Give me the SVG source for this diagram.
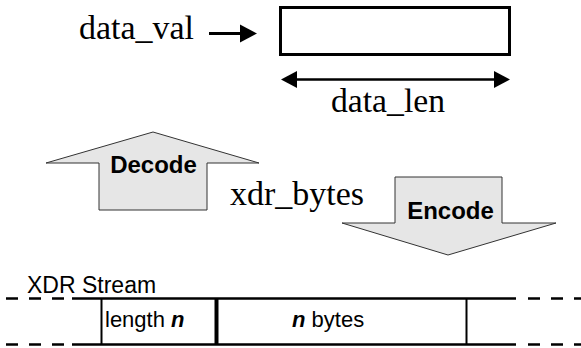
<svg xmlns="http://www.w3.org/2000/svg" width="581" height="348" viewBox="0 0 581 348">
  <style>
    .serif { font-family: "Liberation Serif", "Times New Roman", serif; font-size: 33px; fill: #000; }
    .sans { font-family: "Liberation Sans", Arial, sans-serif; fill: #000; }
    .label { font-size: 24px; font-weight: bold; }
    .cell { font-size: 22px; }
    .bold { font-weight: bold; font-style: italic; }
    .block { fill: #e6e6e6; stroke: #333; stroke-width: 1; }
    .rule { stroke: #000; fill: none; }
    .edge { stroke-width: 2.5; }
    .dash { stroke-width: 2.5; stroke-dasharray: 12 11; }
    .thin { stroke-width: 2; }
    .thick { stroke-width: 4; }
    .arrow { stroke: #000; fill: none; }
    .tip { fill: #000; stroke: none; }
  </style>

  <!-- data buffer and its labels -->
  <g id="data_val">
    <text class="serif" x="79" y="39" textLength="115" lengthAdjust="spacingAndGlyphs">data_val</text>
  </g>
  <g id="buffer">
    <rect x="280.5" y="7.5" width="229" height="47" fill="#fff" stroke="#000" stroke-width="3"/>
  </g>
  <g id="data_len">
    <text class="serif" x="331" y="112" textLength="114" lengthAdjust="spacingAndGlyphs">data_len</text>
  </g>

  <!-- big block arrows -->
  <g id="decode">
    <polygon class="block" points="46,163 153,132 259,163 207,163 207,210 99,210 99,163"/>
    <text class="sans label" x="153.5" y="173" text-anchor="middle">Decode</text>
  </g>
  <g id="xdr_bytes">
    <text class="serif" x="230" y="205" textLength="134" lengthAdjust="spacingAndGlyphs">xdr_bytes</text>
  </g>
  <g id="encode">
    <polygon class="block" points="395,177 502,177 502,223 556,223 448,255 342,223 395,223"/>
    <text class="sans label" x="450.5" y="219" text-anchor="middle">Encode</text>
  </g>

  <!-- XDR stream -->
  <g id="stream">
    <text class="sans" x="27" y="293" style="font-size:23px">XDR Stream</text>
    <line class="rule dash" x1="6" y1="298.5" x2="72" y2="298.5"/>
    <line class="rule edge" x1="72" y1="298.5" x2="516" y2="298.5"/>
    <line class="rule dash" x1="528" y1="298.5" x2="581" y2="298.5"/>
    <line class="rule dash" x1="6" y1="344.5" x2="72" y2="344.5"/>
    <line class="rule edge" x1="72" y1="344.5" x2="516" y2="344.5"/>
    <line class="rule dash" x1="528" y1="344.5" x2="581" y2="344.5"/>
    <line class="rule thin" x1="101.5" y1="298" x2="101.5" y2="345"/>
    <line class="rule thick" x1="216.5" y1="298" x2="216.5" y2="345"/>
    <line class="rule thin" x1="466.5" y1="298" x2="466.5" y2="345"/>
    <text class="sans cell" x="105" y="327">length <tspan class="bold">n</tspan></text>
    <text class="sans cell" x="292" y="327"><tspan class="bold">n</tspan> bytes</text>
  </g>

  <!-- connectors: shafts with solid triangular tips -->
  <g id="connectors">
    <line class="arrow" x1="209" y1="33.5" x2="242" y2="33.5" stroke-width="3"/>
    <polygon class="tip" points="240,24.5 257,33.5 240,42.5"/>
    <line class="arrow" x1="294" y1="79.5" x2="497" y2="79.5" stroke-width="2.5"/>
    <polygon class="tip" points="297,71 281,79.5 297,88"/>
    <polygon class="tip" points="494,71 510,79.5 494,88"/>
  </g>
</svg>
